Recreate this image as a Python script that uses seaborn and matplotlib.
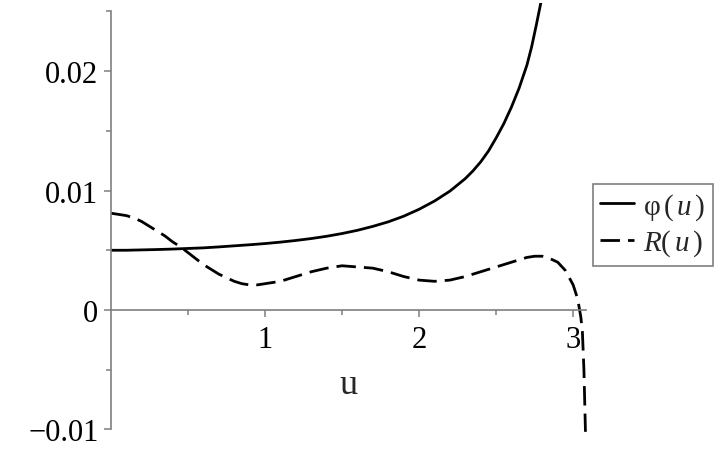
import matplotlib
matplotlib.use("Agg")
import matplotlib.pyplot as plt
import seaborn as sns
import pandas as pd
from matplotlib.ticker import FixedLocator, FixedFormatter

# ---- data ----
u_phi = [0.0, 0.1, 0.2, 0.3, 0.4, 0.5, 0.6, 0.7, 0.8, 0.9, 1.0, 1.1, 1.2,
         1.3, 1.4, 1.5, 1.6, 1.7, 1.8, 1.9, 2.0, 2.1, 2.2, 2.3, 2.35, 2.4,
         2.45, 2.5, 2.55, 2.6, 2.65, 2.7, 2.73, 2.76, 2.79]
phi_vals = [0.0050, 0.00500, 0.00503, 0.00506, 0.00510, 0.00515, 0.00520,
            0.00528, 0.00537, 0.00546, 0.00556, 0.00568, 0.00582, 0.00598,
            0.00617, 0.00640, 0.00667, 0.00700, 0.00738, 0.00785, 0.00843,
            0.00912, 0.00995, 0.01100, 0.01165, 0.01240, 0.01330, 0.01440,
            0.01560, 0.01700, 0.01860, 0.02050, 0.02200, 0.02380, 0.02570]

u_R = [0.0, 0.05, 0.1, 0.15, 0.2, 0.25, 0.3, 0.35, 0.4, 0.45, 0.5, 0.55,
       0.6, 0.65, 0.7, 0.75, 0.8, 0.85, 0.9, 0.95, 1.0, 1.1, 1.2, 1.3, 1.4,
       1.5, 1.6, 1.7, 1.8, 1.9, 2.0, 2.1, 2.2, 2.3, 2.4, 2.5, 2.6, 2.7,
       2.75, 2.8, 2.85, 2.9, 2.95, 3.0, 3.03, 3.05, 3.06, 3.07, 3.08]
R_vals = [0.0081, 0.0080, 0.0079, 0.0077, 0.0074, 0.0070, 0.0066, 0.0062,
          0.0057, 0.0053, 0.0048, 0.0043, 0.0038, 0.0034, 0.0030, 0.0027,
          0.0024, 0.0022, 0.0021, 0.0021, 0.0022, 0.0024, 0.0028, 0.0032,
          0.0035, 0.0037, 0.0036, 0.0035, 0.0032, 0.0028, 0.0025, 0.0024,
          0.0025, 0.0028, 0.0032, 0.0036, 0.0040, 0.0044, 0.0045, 0.0045,
          0.0043, 0.0040, 0.0033, 0.0021, 0.0009, -0.0006, -0.0018, -0.0050,
          -0.0102]

x_ticks = [1, 2, 3]
x_tick_labels = ["1", "2", "3"]
x_minor = [0.5, 1.5, 2.5]
y_ticks = [-0.01, 0, 0.01, 0.02]
y_tick_labels = ["\u22120.01", "0", "0.01", "0.02"]
y_minor = [-0.005, 0.005, 0.015, 0.025]
legend_labels = [r"$\mathrm{φ}\,(\,u\,)$", r"$R(\,u\,)$"]
x_label = "u"

# ---- style ----
sns.set_style("white")
plt.rcParams["font.family"] = ["Liberation Serif", "DejaVu Serif"]
plt.rcParams["mathtext.fontset"] = "custom"
plt.rcParams["mathtext.rm"] = "Liberation Serif"
plt.rcParams["mathtext.it"] = "Liberation Serif:italic"

W, H = 726, 456
fig = plt.figure(figsize=(W / 100, H / 100), dpi=100)
ax = fig.add_axes([111 / W, 1 - 434 / H, 476 / W, 430 / H])

df_phi = pd.DataFrame({"u": u_phi, "v": phi_vals})
df_R = pd.DataFrame({"u": u_R, "v": R_vals})

sns.lineplot(data=df_phi, x="u", y="v", ax=ax, color="black", lw=2.0,
             estimator=None, label=legend_labels[0])
sns.lineplot(data=df_R, x="u", y="v", ax=ax, color="black", lw=2.0,
             estimator=None, linestyle=(0, (7, 2.9)), label=legend_labels[1])

ax.set_xlim(0, 3.09)
ax.set_ylim(-0.0103, 0.0257)

gray = "#7f7f7f"
for s in ["top", "right"]:
    ax.spines[s].set_visible(False)
ax.spines["left"].set_position(("data", 0))
ax.spines["bottom"].set_position(("data", 0))
ax.spines["left"].set_bounds(-0.01, 0.025)
ax.spines["bottom"].set_bounds(0, 3.085)
for s in ["left", "bottom"]:
    ax.spines[s].set_color(gray)
    ax.spines[s].set_linewidth(1.2)

ax.xaxis.set_major_locator(FixedLocator(x_ticks))
ax.xaxis.set_major_formatter(FixedFormatter(x_tick_labels))
ax.xaxis.set_minor_locator(FixedLocator(x_minor))
ax.yaxis.set_major_locator(FixedLocator(y_ticks))
ax.yaxis.set_major_formatter(FixedFormatter(y_tick_labels))
ax.yaxis.set_minor_locator(FixedLocator(y_minor))

ax.tick_params(axis="both", which="both", bottom=True, left=True,
               top=False, right=False)
ax.tick_params(axis="both", which="major", length=5, width=1.1, color=gray,
               labelsize=22, labelcolor="black", direction="out")
ax.tick_params(axis="both", which="minor", length=3.5, width=1.1, color=gray,
               direction="out")
ax.tick_params(axis="x", which="major", pad=6)
ax.tick_params(axis="y", which="major", pad=4)

ax.set_ylabel("")
ax.set_xlabel(x_label, fontsize=26)
ax.xaxis.label.set_va("baseline")
ax.xaxis.set_label_coords(0.5, (434 - 394) / 430)

leg = ax.get_legend()
if leg is not None:
    leg.remove()
handles, labels = ax.get_legend_handles_labels()
lg = fig.legend(handles, labels, loc="upper left",
                bbox_to_anchor=(593 / W, 1 - 185 / H), fontsize=21,
                frameon=True, fancybox=False, framealpha=1,
                edgecolor=gray, borderaxespad=0, borderpad=0.25,
                handlelength=1.17, handletextpad=0.3, labelspacing=0.2)
lg.get_frame().set_linewidth(1.2)

fig.savefig("out.png", dpi=100)
